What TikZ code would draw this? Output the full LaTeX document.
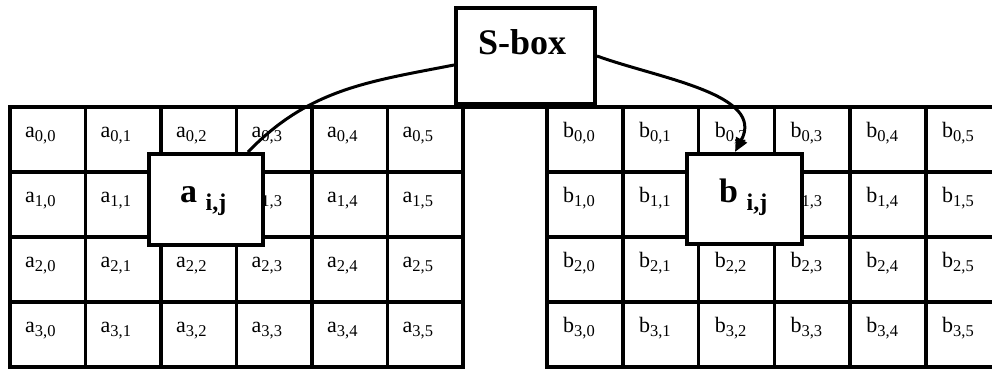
\documentclass[tikz,border=0pt]{standalone}
\usepackage{fontspec}
\setmainfont{Liberation Serif}
\usetikzlibrary{arrows.meta}
\newcommand\cellsub[1]{\raisebox{-4pt}{\fontsize{16.5}{18}\selectfont #1}}
\newcommand\bigsub[1]{\raisebox{-8pt}{\fontsize{24}{26}\selectfont #1}}
\begin{document}
\begin{tikzpicture}[x=1pt,y=-1pt,
  gridline/.style={line width=3.5pt},
  cell/.style={anchor=base west,inner sep=0pt,font=\fontsize{22}{26}\selectfont},
  bigbox/.style={draw,line width=4pt,fill=white,inner sep=0pt},
  biglabel/.style={anchor=base west,inner sep=0pt,font=\bfseries\fontsize{34}{40}\selectfont},
  link/.style={line width=3pt}]
\useasboundingbox (0,0) rectangle (992,369);
\clip (0,0) rectangle (992,369);
% left grid
\foreach \x in {85.5,161,236.5,312,387.5} \draw[gridline] (\x,107) -- (\x,367);
\foreach \y in {172,237,302} \draw[gridline] (10,\y) -- (463,\y);
\draw[gridline] (10,107) rectangle (463,367);
% right grid
\foreach \x in {622.8,698.6,774.4,850.2,926} \draw[gridline] (\x,107) -- (\x,367);
\foreach \y in {172,237,302} \draw[gridline] (547,\y) -- (1002,\y);
\draw[gridline] (547,107) rectangle (1002,367);
\draw[gridline] (463,107) -- (547,107);
% labels (cell 1,2 is hidden by the boxes)
\foreach \r in {0,...,3}{
  \foreach \c in {0,...,5}{
    \ifnum\r\c=12\relax\else
    \node[cell] (a\r\c) at ({10+75.5*\c+15},{107+65*\r+30}) {a\cellsub{\r,\c}};
    \node[cell] (b\r\c) at ({547+75.8*\c+16},{107+65*\r+30}) {b\cellsub{\r,\c}};
    \fi
  }
}
% boxes
\node[bigbox,minimum width=139pt,minimum height=96pt] (sbox) at (525.5,56) {};
\node[anchor=base west,inner sep=0pt,font=\bfseries\fontsize{36}{40}\selectfont] (slabel) at (478,55) {S-box};
\node[bigbox,minimum width=114pt,minimum height=91pt] (abox) at (206,199.5) {};
\node[biglabel] (alabel) at (180,202) {a \bigsub{i,j}};
\node[bigbox,minimum width=115pt,minimum height=90pt] (bbox) at (744.5,199) {};
\node[biglabel] (blabel) at (719,202) {b \bigsub{i,j}};
% connectors
\draw[link] ([xshift=-17pt]abox.north east) to[out=46,in=191] ([yshift=-9pt]sbox.west);
\draw[link,-{Triangle[length=14pt,width=12pt]}] (sbox.east) to[out=-20,in=62] ([xshift=-9.5pt]bbox.north);
\end{tikzpicture}
\end{document}
